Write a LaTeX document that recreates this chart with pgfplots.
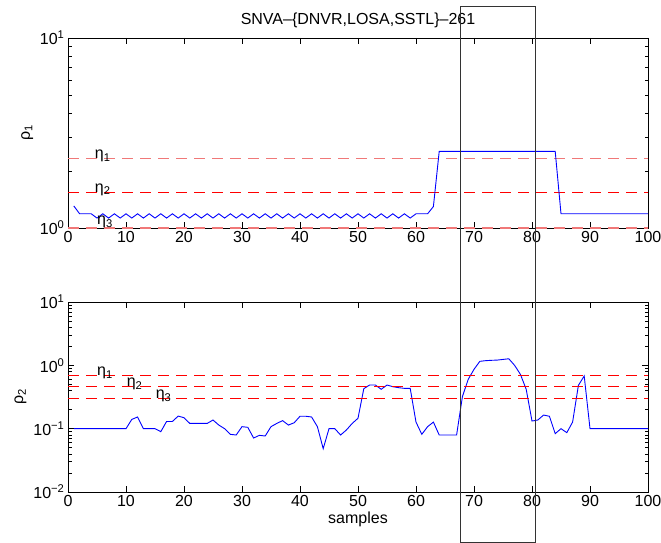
\documentclass[border=0pt]{standalone}
\usepackage{fontspec}
\setmainfont{Liberation Sans}
\usepackage{pgfplots}
\pgfplotsset{compat=1.18}
\definecolor{senyal}{HTML}{0000FF}
\definecolor{llindar}{HTML}{FF0000}
\definecolor{llindarclar}{HTML}{F07878}

\pgfplotsset{panell/.style={width=580pt,height=190pt,scale only axis,anchor=south west,
 xmin=0,xmax=100,xtick={0,10,...,100},tick align=inside,
 major tick length=6pt,minor tick length=3.5pt,
 axis line style={line width=0.7pt},tick style={black,line width=0.6pt},
 tick label style={font=\fontsize{16}{18}\selectfont},
 label style={font=\fontsize{16}{18}\selectfont},
 title style={font=\fontsize{16}{18}\selectfont},
 xticklabel style={/pgf/number format/assume math mode=true},
 clip=false},
 tallada/.style={draw=llindar,line width=1.2pt,dash pattern=on 11pt off 7pt},
 talladaclara/.style={draw=llindarclar,line width=1.1pt,dash pattern=on 11pt off 7pt},
 corba/.style={draw=senyal,line width=0.9pt}}
\tikzset{etiq/.style={anchor=base west,inner sep=0pt,text=black,font=\fontsize{16}{18}\selectfont}}

\begin{document}
\begin{tikzpicture}
\path[use as bounding box] (-68pt,-51pt) rectangle (593pt,492pt);

\begin{axis}[ymode=log,panell,name=dalt,at={(0pt,264pt)},ymin=1,ymax=10,
 ytick={1,10},yticklabels={10\textsuperscript{0},10\textsuperscript{1}},
 minor ytick={2,3,4,5,6,7,8,9},
 ylabel={ρ\textsubscript{1}},
 title={SNVA–\{DNVR,LOSA,SSTL\}–261},title style={yshift=1pt}]
 \addplot[talladaclara] coordinates {(0,2.31) (100,2.31)};
 \addplot[tallada] coordinates {(0,1.54) (100,1.54)};
 \addplot[talladaclara] coordinates {(0,1) (100,1)};
 \addplot[corba] coordinates {
 (1,1.307) (2,1.188) (3,1.188) (4,1.188) (5,1.128) (6,1.188) (7,1.128) (8,1.188)
 (9,1.128) (10,1.188) (11,1.128) (12,1.188) (13,1.128) (14,1.188) (15,1.128)
 (16,1.188) (17,1.128) (18,1.188) (19,1.128) (20,1.188) (21,1.128) (22,1.188)
 (23,1.128) (24,1.188) (25,1.128) (26,1.188) (27,1.128) (28,1.188) (29,1.128)
 (30,1.188) (31,1.128) (32,1.188) (33,1.128) (34,1.188) (35,1.128) (36,1.188)
 (37,1.128) (38,1.188) (39,1.128) (40,1.188) (41,1.128) (42,1.188) (43,1.128)
 (44,1.188) (45,1.128) (46,1.188) (47,1.128) (48,1.188) (49,1.128) (50,1.188)
 (51,1.128) (52,1.188) (53,1.128) (54,1.188) (55,1.128) (56,1.188) (57,1.128)
 (58,1.188) (59,1.128) (60,1.188) (61,1.188) (62,1.188) (63,1.297) (64,2.53)
 (84,2.53) (85,1.188) (100,1.188)};
 \node[etiq] at (axis cs:4.6,2.31) {η\textsubscript{1}};
 \node[etiq] at (axis cs:4.6,1.54) {η\textsubscript{2}};
 \node[etiq] at (axis cs:5,1.04) {η\textsubscript{3}};
 \coordinate (rt) at (axis cs:67.6,10);
\end{axis}

\begin{axis}[ymode=log,panell,name=baix,at={(0pt,0pt)},ymin=0.01,ymax=10,
 ytick={0.01,0.1,1,10},
 yticklabels={10\textsuperscript{−2},10\textsuperscript{−1},10\textsuperscript{0},10\textsuperscript{1}},
 minor ytick={0.02,0.03,0.04,0.05,0.06,0.07,0.08,0.09,0.2,0.3,0.4,0.5,0.6,0.7,0.8,0.9,2,3,4,5,6,7,8,9},
 ylabel={ρ\textsubscript{2}},xlabel={samples},xlabel style={yshift=2pt}]
 \addplot[corba] coordinates {
 (1,0.1) (10,0.1) (11,0.140) (12,0.153) (13,0.1) (14,0.1) (15,0.1) (16,0.0897)
 (17,0.130) (18,0.130) (19,0.158) (20,0.149) (21,0.121) (22,0.121) (23,0.121)
 (24,0.121) (25,0.137) (26,0.114) (27,0.1) (28,0.0814) (29,0.0794) (30,0.1076)
 (31,0.105) (32,0.0712) (33,0.0785) (34,0.0766) (35,0.1076) (36,0.121) (37,0.134)
 (38,0.114) (39,0.124) (40,0.157) (41,0.157) (42,0.153) (43,0.1076) (44,0.0483)
 (45,0.1) (46,0.1) (47,0.0794) (48,0.0953) (49,0.121) (50,0.146) (51,0.428)
 (52,0.489) (53,0.489) (54,0.418) (55,0.489) (56,0.46) (57,0.444) (58,0.433)
 (59,0.433) (60,0.127) (61,0.0814) (62,0.1076) (63,0.127) (64,0.0794) (65,0.0794)
 (66,0.0794) (67,0.0794) (68,0.32) (69,0.601) (70,0.865) (71,1.156) (72,1.185)
 (73,1.20) (74,1.21) (75,1.24) (76,1.27) (77,1.0) (78,0.721) (79,0.418) (80,0.132)
 (81,0.137) (82,0.164) (83,0.157) (84,0.0834) (85,0.1) (86,0.0865) (87,0.127)
 (88,0.483) (89,0.679) (90,0.1) (100,0.1)};
 \addplot[tallada] coordinates {(0,0.69) (100,0.69)};
 \addplot[tallada] coordinates {(0,0.46) (100,0.46)};
 \addplot[tallada] coordinates {(0,0.30) (100,0.30)};
 \node[etiq] at (axis cs:5,0.69) {η\textsubscript{1}};
 \node[etiq] at (axis cs:10.1,0.46) {η\textsubscript{2}};
 \node[etiq] at (axis cs:15.1,0.30) {η\textsubscript{3}};
 \coordinate (rb) at (axis cs:80.6,0.01);
\end{axis}

\draw[black!80,line width=0.9pt] ([yshift=32pt]rt) rectangle ([yshift=-50pt]rb);
\end{tikzpicture}
\end{document}
